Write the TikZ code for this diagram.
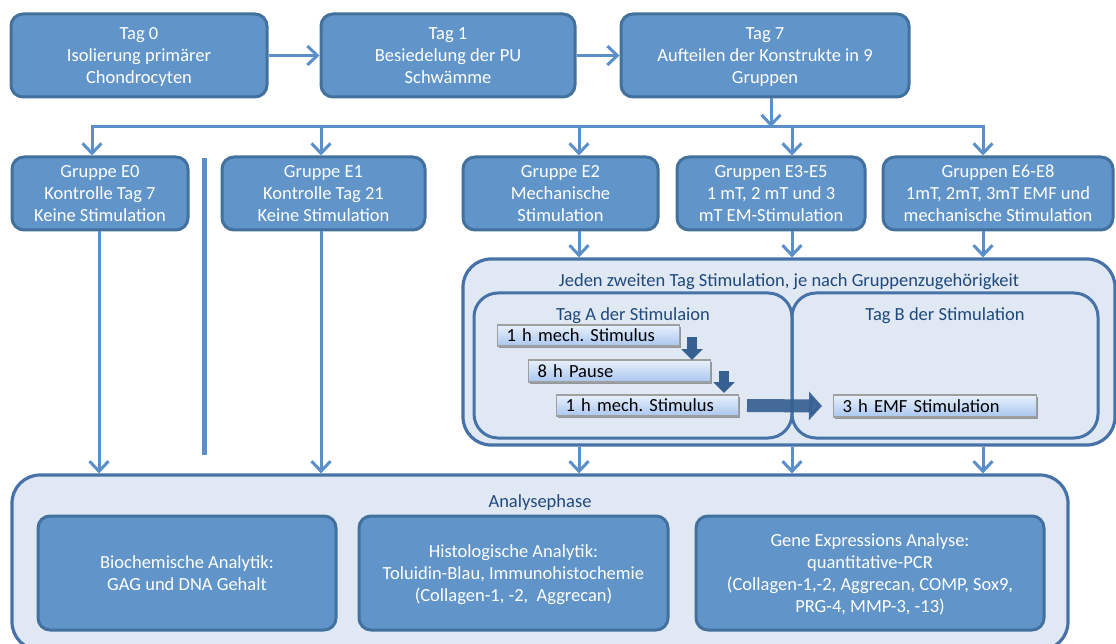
\documentclass[tikz,border=0pt]{standalone}
\usepackage{fontspec}
\setmainfont{Carlito}
\frenchspacing
\usetikzlibrary{arrows.meta,shadows}
\definecolor{boxfill}{HTML}{6195C9}
\definecolor{boxdraw}{HTML}{41719C}
\definecolor{connc}{HTML}{5B8FCA}
\definecolor{lightfill}{HTML}{DFE8F3}
\definecolor{contdraw}{HTML}{4672A8}
\definecolor{darkarrow}{HTML}{366092}
\definecolor{darktext}{HTML}{1F497D}
\definecolor{sbtop}{HTML}{E8F0FC}
\definecolor{sbbot}{HTML}{A9C6F0}
\tikzset{
  bluebox/.style={draw=boxdraw, fill=boxfill, line width=3pt, rounded corners=12pt,
    text=white, align=center, inner sep=0pt, text depth=0pt,
    execute at begin node={\rule{0pt}{19pt}}},
  cont/.style={draw=contdraw, fill=lightfill, line width=3.2pt, rounded corners=28pt, inner sep=0pt},
  inner/.style={draw=contdraw, line width=3pt, rounded corners=24pt, inner sep=0pt},
  conn/.style={draw=connc, line width=3pt, line join=miter,
    -{Straight Barb[length=10pt,width=19pt,line width=3pt]}},
  plainline/.style={draw=connc, line width=3pt},
  sepline/.style={draw=connc, line width=5pt},
  stimbox/.style={draw=gray!75, line width=1.2pt, top color=sbtop, bottom color=sbbot,
    drop shadow={shadow xshift=1.5pt, shadow yshift=-2pt, opacity=0.35, fill=black},
    text=black, align=left, inner xsep=9pt, inner ysep=0pt, anchor=west},
  darklabel/.style={text=darktext, text depth=0pt}
}
\begin{document}
\begin{tikzpicture}[x=1pt, y=-1pt, font=\fontsize{18.5}{22}\selectfont]
\useasboundingbox (0,0) rectangle (1116,644);

% top row
\node[bluebox, minimum width=256pt, minimum height=83pt] (t0) at (139,55.5) {Tag 0\\Isolierung primärer\\Chondrocyten};
\node[bluebox, minimum width=254pt, minimum height=83pt] (t1) at (448,55.5) {Tag 1\\Besiedelung der PU\\Schwämme};
\node[bluebox, minimum width=288pt, minimum height=83pt] (t7) at (765,55.5) {Tag 7\\Aufteilen der Konstrukte in 9\\Gruppen};

% second row
\node[bluebox, minimum width=176pt, minimum height=73pt] (e0) at (100,193.5) {Gruppe E0\\Kontrolle Tag 7\\Keine Stimulation};
\node[bluebox, minimum width=203pt, minimum height=73pt] (e1) at (323.5,193.5) {Gruppe E1\\Kontrolle Tag 21\\Keine Stimulation};
\node[bluebox, minimum width=195pt, minimum height=73pt] (e2) at (560.5,193.5) {Gruppe E2\\Mechanische\\Stimulation};
\node[bluebox, minimum width=188pt, minimum height=73pt] (e3) at (771,193.5) {Gruppen E3-E5\\1 mT, 2 mT und 3\\mT EM-Stimulation};
\node[bluebox, minimum width=230pt, minimum height=73pt] (e6) at (998,193.5) {Gruppen E6-E8\\1mT, 2mT, 3mT EMF und\\mechanische Stimulation};

% stimulation container
\node[cont, minimum width=652pt, minimum height=186pt] (stim) at (789,352) {};
\node[inner, minimum width=318pt, minimum height=145pt] (dayA) at (633,365.5) {};
\node[inner, minimum width=306pt, minimum height=145pt] (dayB) at (945,365.5) {};
\node[darklabel] (stimtitle) at (789,280) {Jeden zweiten Tag Stimulation, je nach Gruppenzugehörigkeit};
\node[darklabel] (tagA) at (633,314) {Tag A der Stimulaion};
\node[darklabel] (tagB) at (945,314) {Tag B der Stimulation};

\node[stimbox, text width=164pt, minimum height=21pt] (s1) at (497,335.5) {1 h mech. Stimulus};
\node[stimbox, text width=164pt, minimum height=22pt] (s2) at (528,371) {8 h Pause};
\node[stimbox, text width=164pt, minimum height=21pt] (s3) at (556,405.5) {1 h mech. Stimulus};
\node[stimbox, text width=185pt, minimum height=22pt] (s4) at (833,406) {3 h EMF Stimulation};

\coordinate (a1s) at (692,337); \coordinate (a1e) at (692,360);
\coordinate (a2s) at (724,371); \coordinate (a2e) at (724,393);
\draw[darkarrow, line width=10pt, -{Triangle[length=11pt,width=21pt]}] (a1s) -- (a1e);
\draw[darkarrow, line width=10pt, -{Triangle[length=11pt,width=21pt]}] (a2s) -- (a2e);
\draw[darkarrow, opacity=0.92, line width=13pt, -{Triangle[length=13pt,width=28pt]}] (s3.east -| 747,0) -- (s4.west -| 822,0);

% analysis container
\node[cont, minimum width=1056pt, minimum height=175pt] (ana) at (540,562.5) {};
\node[darklabel] (anatitle) at (540,501) {Analysephase};
\node[bluebox, minimum width=298pt, minimum height=114pt] (bio) at (187,573) {Biochemische Analytik:\\GAG und DNA Gehalt};
\node[bluebox, minimum width=309pt, minimum height=114pt] (his) at (513.5,573) {Histologische Analytik:\\Toluidin-Blau, Immunohistochemie\\(Collagen-1, -2,\ \ Aggrecan)};
\node[bluebox, minimum width=348pt, minimum height=114pt] (gen) at (870,573) {Gene Expressions Analyse:\\quantitative-PCR\\(Collagen-1,-2, Aggrecan, COMP, Sox9,\\PRG-4, MMP-3, -13)};

% connectors
\draw[conn] (t0) -- (t1);
\draw[conn] (t1) -- (t7);
\coordinate (split) at (771,127);
\coordinate (busL) at (92,127);
\coordinate (b1) at (321,127);
\coordinate (b2) at (579,127);
\coordinate (b3) at (792,127);
\coordinate (busR) at (983,127);
\draw[conn] (t7.south -| split) -- (split);
\draw[conn] (busR) -- (busL) -- (busL |- e0.north);
\draw[conn] (busL) -- (busR) -- (busR |- e6.north);
\draw[conn] (b1) -- (b1 |- e1.north);
\draw[conn] (b2) -- (b2 |- e2.north);
\draw[conn] (b3) -- (b3 |- e3.north);

\draw[conn] (e2.south -| b2) -- (b2 |- stim.north);
\draw[conn] (e3.south -| b3) -- (b3 |- stim.north);
\draw[conn] (e6.south -| busR) -- (busR |- stim.north);
\draw[conn] (stim.south -| b2) -- (b2 |- ana.north);
\draw[conn] (stim.south -| b3) -- (b3 |- ana.north);
\draw[conn] (stim.south -| busR) -- (busR |- ana.north);

\coordinate (e0x) at (99,0);
\draw[conn] (e0.south -| e0x) -- (e0x |- ana.north);
\draw[conn] (e1.south -| b1) -- (b1 |- ana.north);

\coordinate (sepTop) at (204,158);
\coordinate (sepBot) at (204,455);
\draw[sepline] (sepTop) -- (sepBot);
\end{tikzpicture}
\end{document}
